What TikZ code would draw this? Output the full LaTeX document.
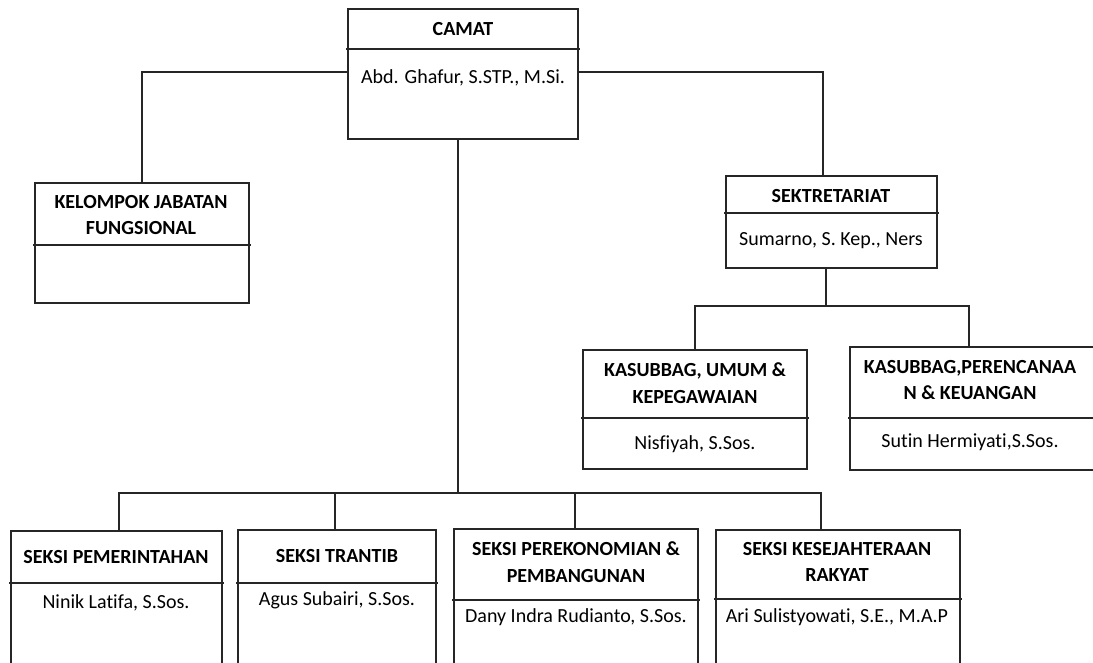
\documentclass[tikz,border=0pt]{standalone}
\usepackage{fontspec}
\setmainfont{Carlito}[Ligatures=NoCommon]
\usetikzlibrary{fit,calc}
\definecolor{ink}{HTML}{262626}
\tikzset{
  box/.style={draw=ink, line width=1pt, inner sep=0pt},
  div/.style={draw=ink, line width=1pt},
  ttl/.style={font=\fontsize{15}{20}\selectfont\bfseries, align=center, inner sep=0pt},
  nm/.style={font=\fontsize{15}{20}\selectfont, align=center, inner sep=0pt},
  link/.style={draw=ink, line width=1pt},
}

\begin{document}
\begin{tikzpicture}[x=0.75pt, y=-0.75pt]
    \clip (0,0) rectangle (1093,663);
    % camat
    \node[box, fit={(348,9) (578,139)}] (camat) {};
    \draw[div] (346,49) -- (580,49);
    \node[ttl] (camatT) at (463,29) {CAMAT};
    \node[nm] (camatN) at (463,78) {Abd. Ghafur, S.STP., M.Si.};
    % kelompok jabatan fungsional
    \node[box, fit={(35,183) (249,303)}] (kjf) {};
    \draw[div] (33,245) -- (251,245);
    \node[ttl] (kjfT) at (141,215) {KELOMPOK JABATAN\\FUNGSIONAL};
    % sekretariat
    \node[box, fit={(726,176) (937,268)}] (sek) {};
    \draw[div] (724,213) -- (939,213);
    \node[ttl] (sekT) at (831,196) {SEKTRETARIAT};
    \node[nm] (sekN) at (831,241) {Sumarno, S. Kep., Ners};
    % kasubbag
    \node[box, fit={(583,350) (807,469)}] (ku) {};
    \draw[div] (581,418) -- (809,418);
    \node[ttl] (kuT) at (695,383) {KASUBBAG, UMUM \&\\KEPEGAWAIAN};
    \node[nm] (kuN) at (695,444) {Nisfiyah, S.Sos.};
    \node[box, fit={(850,347) (1100,470)}] (kpk) {};
    \draw[div] (848,418) -- (1100,418);
    \node[ttl] (kpkT) at (970,380) {KASUBBAG,PERENCANAA\\N \& KEUANGAN};
    \node[nm] (kpkN) at (970,442) {Sutin Hermiyati,S.Sos.};
    % seksi row
    \node[box, fit={(11,531) (222,700)}] (sp) {};
    \draw[div] (9,583) -- (224,583);
    \node[ttl] (spT) at (116,557) {SEKSI PEMERINTAHAN};
    \node[nm] (spN) at (116,603) {Ninik Latifa, S.Sos.};
    \node[box, fit={(238,530) (436,700)}] (st) {};
    \draw[div] (236,583) -- (438,583);
    \node[ttl] (stT) at (337,556) {SEKSI TRANTIB};
    \node[nm] (stN) at (337,600) {Agus Subairi, S.Sos.};
    \node[box, fit={(454,529) (698,700)}] (spp) {};
    \draw[div] (452,600) -- (700,600);
    \node[ttl] (sppT) at (576,562) {SEKSI PEREKONOMIAN \&\\PEMBANGUNAN};
    \node[nm] (sppN) at (576,617) {Dany Indra Rudianto, S.Sos.};
    \node[box, fit={(716,530) (960,700)}] (skr) {};
    \draw[div] (714,599) -- (962,599);
    \node[ttl] (skrT) at (837,562) {SEKSI KESEJAHTERAAN\\RAKYAT};
    \node[nm] (skrN) at (837,617) {Ari Sulistyowati, S.E., M.A.P};
    % connectors
    \coordinate (sbus) at (826,306);
    \coordinate (bus) at (458,493);
    \draw[link] (camat.west |- 0,72) -| (kjf.north);
    \draw[link] (camat.east |- 0,72) -| (sek.north -| 823,0);
    \draw[link] (sek.south -| sbus) -- (sbus);
    \draw[link] (ku.north) |- (sbus) -| (kpk.north -| 969,0);
    \draw[link] (camat.south -| bus) -- (bus);
    \draw[link] (sp.north -| 119,0) |- (bus) -| (skr.north -| 821,0);
    \draw[link] (st.north -| 335,0) |- (bus);
    \draw[link] (spp.north -| 575,0) |- (bus);
\end{tikzpicture}
\end{document}
